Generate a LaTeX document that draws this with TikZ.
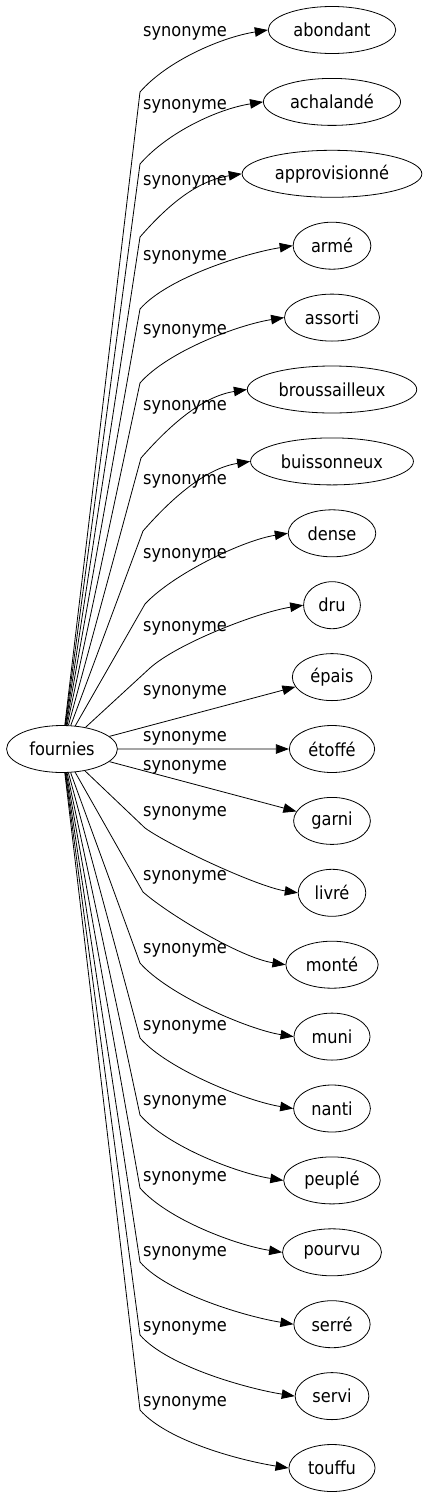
\documentclass[tikz,border=0pt]{standalone}
\usepackage{fontspec}
\setmainfont{DejaVu Sans Condensed}
\usetikzlibrary{shapes.geometric, arrows.meta}
\tikzstyle{fleche} = [line width=0.8pt,
                      -{Triangle[length=13pt,width=9.5pt]}]
\tikzstyle{mot} = [ellipse,
                   draw=black,
                   line width=0.8pt,
                   minimum height=47pt,
                   inner xsep=6.5pt,
                   inner ysep=2pt]
\tikzstyle{etiquette} = [inner sep=0pt]

\begin{document}
\begin{tikzpicture}[x=1pt, y=-1pt, node distance=71.9pt, font=\fontsize{18}{21}\selectfont]
        \useasboundingbox (0,0) rectangle (426,1499);

        \node (Fournies) [mot] at (62,749) {fournies};
        \node (Abondant) [mot] at (332,30) {abondant};
        \node (Achalande) [mot, below of=Abondant] {achalandé};
        \node (Approvisionne) [mot, below of=Achalande] {approvisionné};
        \node (Arme) [mot, below of=Approvisionne] {armé};
        \node (Assorti) [mot, below of=Arme] {assorti};
        \node (Broussailleux) [mot, below of=Assorti] {broussailleux};
        \node (Buissonneux) [mot, below of=Broussailleux] {buissonneux};
        \node (Dense) [mot, below of=Buissonneux] {dense};
        \node (Dru) [mot, below of=Dense] {dru};
        \node (Epais) [mot, below of=Dru] {épais};
        \node (Etoffe) [mot, below of=Epais] {étoffé};
        \node (Garni) [mot, below of=Etoffe] {garni};
        \node (Livre) [mot, below of=Garni] {livré};
        \node (Monte) [mot, below of=Livre] {monté};
        \node (Muni) [mot, below of=Monte] {muni};
        \node (Nanti) [mot, below of=Muni] {nanti};
        \node (Peuple) [mot, below of=Nanti] {peuplé};
        \node (Pourvu) [mot, below of=Peuple] {pourvu};
        \node (Serre) [mot, below of=Pourvu] {serré};
        \node (Servi) [mot, below of=Serre] {servi};
        \node (Touffu) [mot, below of=Servi] {touffu};

        % vers le haut
        \draw [fleche] (Fournies) -- (140,92) .. controls +(28,-32) and +(-45,7) .. (Abondant.west) node [etiquette] at (185,33) {synonyme};
        \draw [fleche] (Fournies) -- (140,164) .. controls +(28,-32) and +(-45,7) .. (Achalande.west) node [etiquette] at (185,106) {synonyme};
        \draw [fleche] (Fournies) -- (140,237) .. controls +(28,-32) and +(-45,7) .. (Approvisionne.west) node [etiquette] at (185,182) {synonyme};
        \draw [fleche] (Fournies) -- (140,309) .. controls +(28,-32) and +(-45,7) .. (Arme.west) node [etiquette] at (185,257) {synonyme};
        \draw [fleche] (Fournies) -- (140,383) .. controls +(28,-32) and +(-45,7) .. (Assorti.west) node [etiquette] at (185,331) {synonyme};
        \draw [fleche] (Fournies) -- (141,458) .. controls +(28,-32) and +(-45,7) .. (Broussailleux.west) node [etiquette] at (185,407) {synonyme};
        \draw [fleche] (Fournies) -- (143,531) .. controls +(28,-32) and +(-45,7) .. (Buissonneux.west) node [etiquette] at (185,481) {synonyme};
        \draw [fleche] (Fournies) -- (145,604) .. controls +(28,-30) and +(-45,7) .. (Dense.west) node [etiquette] at (185,555) {synonyme};
        \draw [fleche] (Fournies) -- (150,668) .. controls +(28,-25) and +(-45,7) .. (Dru.west) node [etiquette] at (185,628) {synonyme};
        \draw [fleche] (Fournies) -- (Epais) node [etiquette] at (185,692) {synonyme};
        \draw [fleche] (Fournies) -- (Etoffe) node [etiquette] at (185,738) {synonyme};
        % vers le bas
        \draw [fleche] (Fournies) -- (Garni) node [etiquette] at (185,767) {synonyme};
        \draw [fleche] (Fournies) -- (145,828) .. controls +(25,18) and +(-40,-6) .. (Livre.west) node [etiquette] at (185,813) {synonyme};
        \draw [fleche] (Fournies) -- (143,892) .. controls +(25,22) and +(-45,-7) .. (Monte.west) node [etiquette] at (185,877) {synonyme};
        \draw [fleche] (Fournies) -- (140,963) .. controls +(28,32) and +(-45,-7) .. (Muni.west) node [etiquette] at (185,950) {synonyme};
        \draw [fleche] (Fournies) -- (140,1038) .. controls +(28,32) and +(-45,-7) .. (Nanti.west) node [etiquette] at (185,1027) {synonyme};
        \draw [fleche] (Fournies) -- (140,1115) .. controls +(28,32) and +(-45,-7) .. (Peuple.west) node [etiquette] at (185,1102) {synonyme};
        \draw [fleche] (Fournies) -- (140,1188) .. controls +(28,32) and +(-45,-7) .. (Pourvu.west) node [etiquette] at (185,1178) {synonyme};
        \draw [fleche] (Fournies) -- (140,1262) .. controls +(28,32) and +(-45,-7) .. (Serre.west) node [etiquette] at (185,1253) {synonyme};
        \draw [fleche] (Fournies) -- (140,1335) .. controls +(28,32) and +(-45,-7) .. (Servi.west) node [etiquette] at (185,1328) {synonyme};
        \draw [fleche] (Fournies) -- (140,1410) .. controls +(28,32) and +(-45,-7) .. (Touffu.west) node [etiquette] at (185,1403) {synonyme};
\end{tikzpicture}
\end{document}
